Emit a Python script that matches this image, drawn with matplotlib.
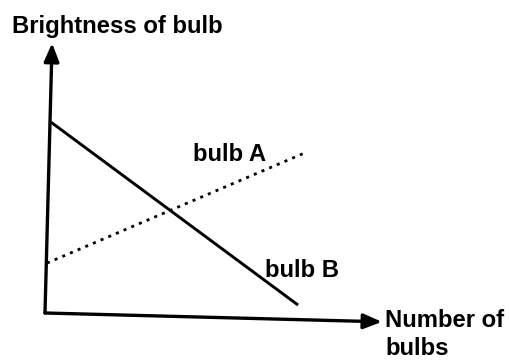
import matplotlib.pyplot as plt
from matplotlib.patches import FancyArrowPatch
from matplotlib.transforms import Affine2D

plt.rcParams['font.family'] = ['Liberation Sans', 'DejaVu Sans']

# two straight lines (axis units 0..10)
bulb_a_x = [0.02, 7.65]
bulb_a_y = [1.85, 6.22]
bulb_b_x = [0.03, 7.5]
bulb_b_y = [7.07, 0.54]

W, H = 509, 360
fig = plt.figure(figsize=(W / 100, H / 100), dpi=100)
# axes box spans from the origin to the arrow tips
ax = fig.add_axes([45 / W, (H - 313) / H, 337 / W, 270 / H])
ax.set_xlim(0, 10)
ax.set_ylim(0, 10)
ax.axis('off')

# the scanned sketch is tilted a little clockwise
fig.canvas.draw()
ox, oy = ax.transData.transform((0, 0))
tilt = ax.transData + Affine2D().rotate_deg_around(ox, oy, -1.5)

# axis arrows
for tip in [(0, 10), (10, 0)]:
    arr = FancyArrowPatch((0, 0), tip, transform=tilt,
                          arrowstyle='-|>,head_length=0.85,head_width=0.35',
                          mutation_scale=13, color='black', lw=2.4,
                          shrinkA=0, shrinkB=0, clip_on=False)
    ax.add_patch(arr)

ax.plot(bulb_b_x, bulb_b_y, color='black', lw=2.1, transform=tilt,
        solid_capstyle='butt', clip_on=False)
ax.plot(bulb_a_x, bulb_a_y, color='black', lw=2, transform=tilt,
        linestyle=(0, (1.1, 1.9)), clip_on=False)

labels = [
    ('Brightness of bulb', 12, 33),
    ('bulb A', 193, 161),
    ('bulb B', 265, 277),
    ('Number of', 385, 327),
    ('bulbs', 385, 355),
]
for txt, px, py in labels:
    fig.text(px / W, 1 - py / H, txt, fontsize=17.2, fontweight='bold',
             va='baseline', ha='left')

fig.savefig('out.png', dpi=100)
